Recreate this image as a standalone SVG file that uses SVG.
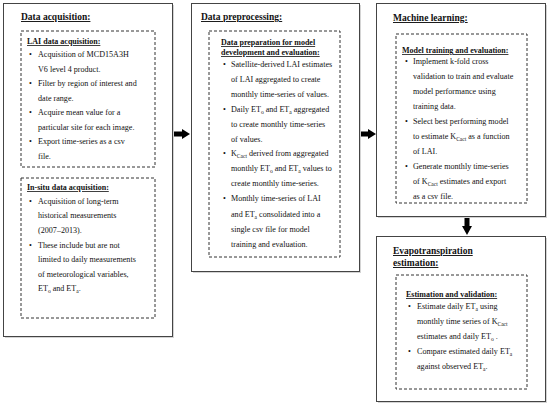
<svg xmlns="http://www.w3.org/2000/svg" width="550" height="407" viewBox="0 0 550 407">
<style>
text{font-family:"Liberation Serif","Times New Roman",serif;fill:#111}
.t{font-size:9.5px;font-weight:bold;text-decoration:underline}
.h{font-size:8px;font-weight:bold;text-decoration:underline}
.b{font-size:8.1px}
.s{font-size:5.5px}
.box{fill:#fff;stroke:#444;stroke-width:1}
.sh{fill:#d4d4d4}
.dash{fill:none;stroke:#333;stroke-width:1;stroke-dasharray:3,2}
.arr{fill:#000}
</style>
<rect width="550" height="407" fill="#fff"/>
<g id="acq">
<rect class="sh" x="5" y="5" width="169" height="333"/>
<rect class="box" x="3.5" y="3.5" width="169" height="333"/>
<text class="t" x="21" y="20">Data acquisition:</text>
<rect class="dash" x="21" y="31" width="134" height="136"/>
<text class="h" x="27" y="44">LAI data acquisition:</text>
<text class="b" x="29" y="57">•</text><text class="b" x="38" y="57">Acquisition of MCD15A3H</text>
<text class="b" x="38" y="71.5">V6 level 4 product.</text>
<text class="b" x="29" y="86">•</text><text class="b" x="38" y="86">Filter by region of interest and</text>
<text class="b" x="38" y="100.5">date range.</text>
<text class="b" x="29" y="115">•</text><text class="b" x="38" y="115">Acquire mean value for a</text>
<text class="b" x="38" y="129.5">particular site for each image.</text>
<text class="b" x="29" y="144">•</text><text class="b" x="38" y="144">Export time-series as a csv</text>
<text class="b" x="38" y="158.5">file.</text>
<rect class="dash" x="21" y="178" width="134" height="140"/>
<text class="h" x="27" y="190">In-situ data acquisition:</text>
<text class="b" x="29" y="204">•</text><text class="b" x="38" y="204">Acquisition of long-term</text>
<text class="b" x="38" y="218">historical measurements</text>
<text class="b" x="38" y="233">(2007–2013).</text>
<text class="b" x="29" y="247.5">•</text><text class="b" x="38" y="247.5">These include but are not</text>
<text class="b" x="38" y="262">limited to daily measurements</text>
<text class="b" x="38" y="276.5">of meteorological variables,</text>
<text class="b" x="38" y="291">ET<tspan class="s" dy="2">o</tspan><tspan dy="-2"> and ET</tspan><tspan class="s" dy="2">a</tspan><tspan dy="-2">.</tspan></text>
</g>
<g id="prep">
<rect class="sh" x="193" y="5" width="168" height="268"/>
<rect class="box" x="191.5" y="3.5" width="168" height="268"/>
<text class="t" x="201" y="20">Data preprocessing:</text>
<rect class="dash" x="209" y="31" width="131" height="226"/>
<text class="h" x="221" y="45">Data preparation for model</text>
<text class="h" x="221" y="55">development and evaluation:</text>
<text class="b" x="223" y="66.5">•</text><text class="b" x="231" y="66.5">Satellite-derived LAI estimates</text>
<text class="b" x="231" y="81.5">of LAI aggregated to create</text>
<text class="b" x="231" y="96.5">monthly time-series of values.</text>
<text class="b" x="223" y="111.5">•</text><text class="b" x="231" y="111.5">Daily ET<tspan class="s" dy="2">o</tspan><tspan dy="-2"> and ET</tspan><tspan class="s" dy="2">a</tspan><tspan dy="-2"> aggregated</tspan></text>
<text class="b" x="231" y="126.5">to create monthly time-series</text>
<text class="b" x="231" y="141.5">of values.</text>
<text class="b" x="223" y="156">•</text><text class="b" x="231" y="156">K<tspan class="s" dy="2">Cact</tspan><tspan dy="-2"> derived from aggregated</tspan></text>
<text class="b" x="231" y="171">monthly ET<tspan class="s" dy="2">o</tspan><tspan dy="-2"> and ET</tspan><tspan class="s" dy="2">a</tspan><tspan dy="-2"> values to</tspan></text>
<text class="b" x="231" y="186">create monthly time-series.</text>
<text class="b" x="223" y="201">•</text><text class="b" x="231" y="201">Monthly time-series of LAI</text>
<text class="b" x="231" y="216.5">and ET<tspan class="s" dy="2">a</tspan><tspan dy="-2"> consolidated into a</tspan></text>
<text class="b" x="231" y="231.5">single csv file for model</text>
<text class="b" x="231" y="246.5">training and evaluation.</text>
</g>
<g id="ml">
<rect class="sh" x="378" y="5" width="169" height="213"/>
<rect class="box" x="376.5" y="3.5" width="169" height="213"/>
<text class="t" x="393" y="21">Machine learning:</text>
<rect class="dash" x="396" y="34" width="131" height="169"/>
<text class="h" x="402" y="53">Model training and evaluation:</text>
<text class="b" x="405" y="64">•</text><text class="b" x="413" y="64">Implement k-fold cross</text>
<text class="b" x="413" y="79">validation to train and evaluate</text>
<text class="b" x="413" y="94">model performance using</text>
<text class="b" x="413" y="109">training data.</text>
<text class="b" x="405" y="124">•</text><text class="b" x="413" y="124">Select best performing model</text>
<text class="b" x="413" y="139">to estimate K<tspan class="s" dy="2">Cact</tspan><tspan dy="-2"> as a function</tspan></text>
<text class="b" x="413" y="154">of LAI.</text>
<text class="b" x="405" y="169">•</text><text class="b" x="413" y="169">Generate monthly time-series</text>
<text class="b" x="413" y="184">of K<tspan class="s" dy="2">Cact</tspan><tspan dy="-2"> estimates and export</tspan></text>
<text class="b" x="413" y="199">as a csv file.</text>
</g>
<g id="et">
<rect class="sh" x="378" y="238" width="169" height="165"/>
<rect class="box" x="376.5" y="236.5" width="169" height="165"/>
<text class="t" x="393" y="254">Evapotranspiration</text>
<text class="t" x="393" y="266">estimation:</text>
<rect class="dash" x="396" y="275" width="131" height="114"/>
<text class="h" x="406" y="297">Estimation and validation:</text>
<text class="b" x="408" y="308.5">•</text><text class="b" x="417" y="308.5">Estimate daily ET<tspan class="s" dy="2">a</tspan><tspan dy="-2"> using</tspan></text>
<text class="b" x="417" y="323.5">monthly time series of K<tspan class="s" dy="2">Cact</tspan></text>
<text class="b" x="417" y="338.5">estimates and daily ET<tspan class="s" dy="2">o</tspan><tspan dy="-2"> .</tspan></text>
<text class="b" x="408" y="353.5">•</text><text class="b" x="417" y="353.5">Compare estimated daily ET<tspan class="s" dy="2">a</tspan></text>
<text class="b" x="417" y="368.5">against observed ET<tspan class="s" dy="2">a</tspan><tspan dy="-2">.</tspan></text>
</g>
<g id="connectors">
<path class="arr" d="M174,131.5 H182 V129 L190,134 L182,139 V136.5 H174 Z"/>
<path class="arr" d="M361,131.5 H368 V129 L376,134 L368,139 V136.5 H361 Z"/>
<path class="arr" d="M464.5,218 V226 H462 L467,235 L472,226 H469.5 V218 Z"/>
</g>
</svg>
